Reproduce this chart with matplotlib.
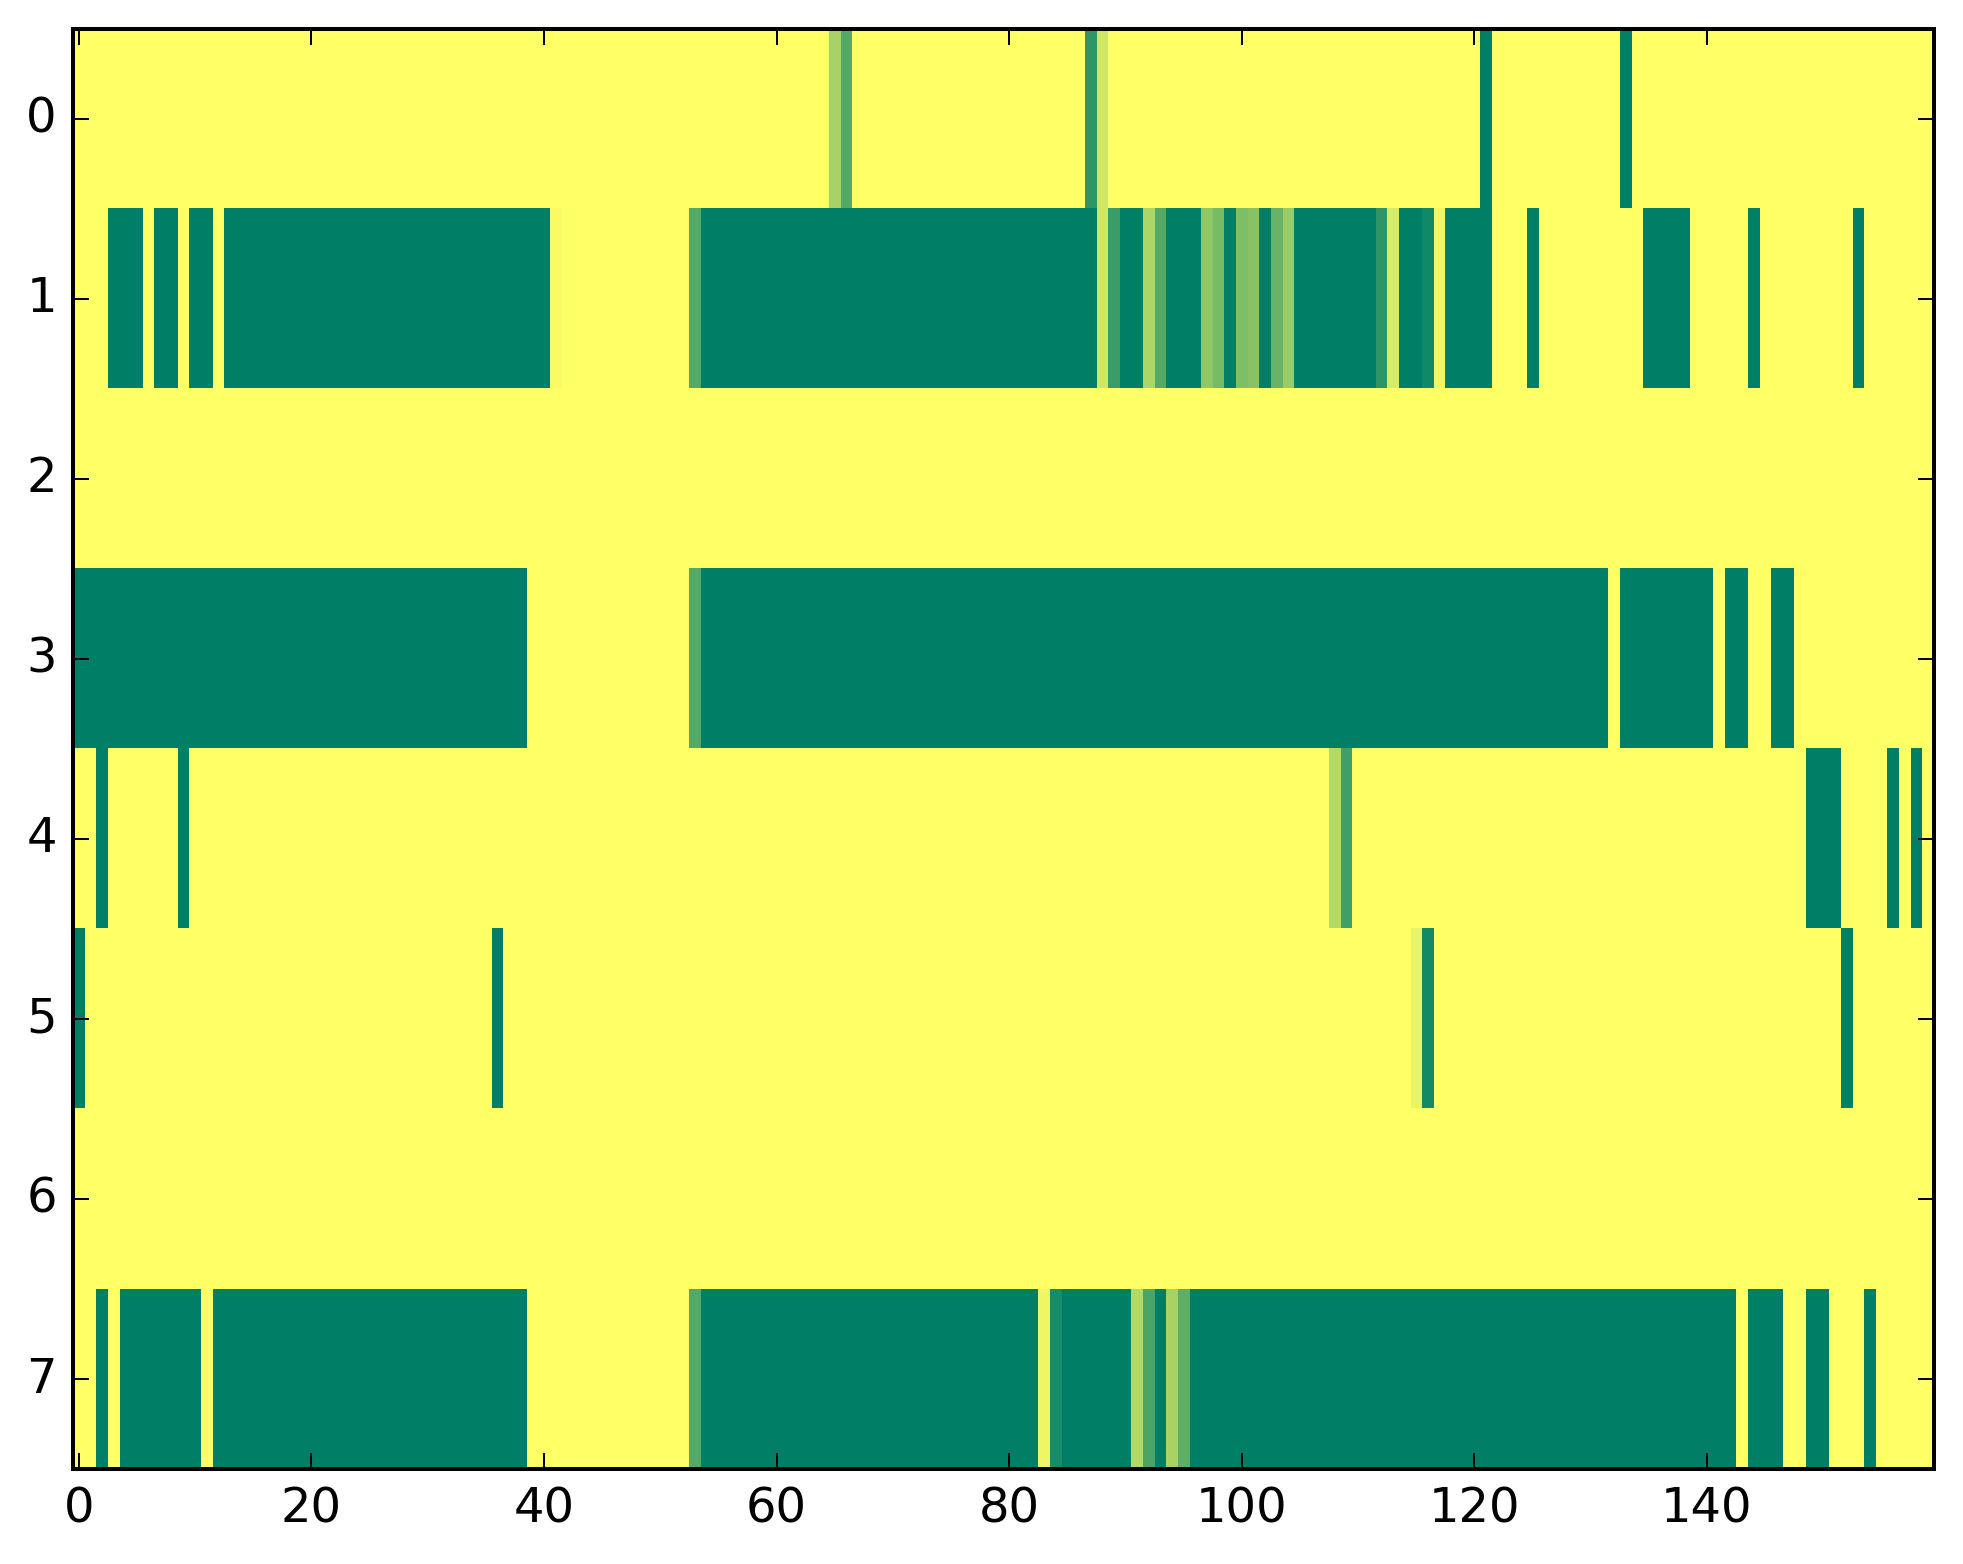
import numpy as np
import matplotlib
matplotlib.use("Agg")
import matplotlib.pyplot as plt

plt.style.use("classic")
plt.rcParams["font.family"] = ["DejaVu Sans"]

# Cell values (1 = yellow, 0 = dark green, summer colormap), 8 rows x 160 columns
row0 = [1,1,1,1,1,1,1,1,1,1, 1,1,1,1,1,1,1,1,1,1,
        1,1,1,1,1,1,1,1,1,1, 1,1,1,1,1,1,1,1,1,1,
        1,1,1,1,1,1,1,1,1,1, 1,1,1,1,1,1,1,1,1,1,
        1,1,1,1,1,.65,.33,1,1,1, 1,1,1,1,1,1,1,1,1,1,
        1,1,1,1,1,1,1,.18,.81,1, 1,1,1,1,1,1,1,1,1,1,
        1,1,1,1,1,1,1,1,1,1, 1,1,1,1,1,1,1,1,1,1,
        1,0,1,1,1,1,1,1,1,1, 1,1,1,0,1,1,1,1,1,1,
        1,1,1,1,1,1,1,1,1,1, 1,1,1,1,1,1,1,1,1,1]
row1 = [1,1,1,0,0,0,1,0,0,1, 0,0,1,0,0,0,0,0,0,0,
        0,0,0,0,0,0,0,0,0,0, 0,0,0,0,0,0,0,0,0,0,
        0,.97,1,1,1,1,1,1,1,1, 1,1,1,.33,0,0,0,0,0,0,
        0,0,0,0,0,0,0,0,0,0, 0,0,0,0,0,0,0,0,0,0,
        0,0,0,0,0,0,0,0,.81,.23, 0,0,.68,.33,0,0,0,.56,.47,0,
        .49,.53,0,.41,.6,0,0,0,0,0, 0,0,.18,.84,0,0,.07,.94,0,0,
        0,0,1,1,1,0,1,1,1,1, 1,1,1,1,1,0,0,0,0,1,
        1,1,1,1,0,1,1,1,1,1, 1,1,1,0,1,1,1,1,1,1]
row2 = [1] * 160
row3 = [0,0,0,0,0,0,0,0,0,0, 0,0,0,0,0,0,0,0,0,0,
        0,0,0,0,0,0,0,0,0,0, 0,0,0,0,0,0,0,0,0,1,
        1,1,1,1,1,1,1,1,1,1, 1,1,1,.33,0,0,0,0,0,0,
        0,0,0,0,0,0,0,0,0,0, 0,0,0,0,0,0,0,0,0,0,
        0,0,0,0,0,0,0,0,0,0, 0,0,0,0,0,0,0,0,0,0,
        0,0,0,0,0,0,0,0,0,0, 0,0,0,0,0,0,0,0,0,0,
        0,0,0,0,0,0,0,0,0,0, 0,0,1,0,0,0,0,0,0,0,
        0,1,0,0,1,1,0,0,1,1, 1,1,1,1,1,1,1,1,1,1]
row4 = [1,1,0,1,1,1,1,1,1,0, 1,1,1,1,1,1,1,1,1,1,
        1,1,1,1,1,1,1,1,1,1, 1,1,1,1,1,1,1,1,1,1,
        1,1,1,1,1,1,1,1,1,1, 1,1,1,1,1,1,1,1,1,1,
        1,1,1,1,1,1,1,1,1,1, 1,1,1,1,1,1,1,1,1,1,
        1,1,1,1,1,1,1,1,1,1, 1,1,1,1,1,1,1,1,1,1,
        1,1,1,1,1,1,1,1,.7,.25, 1,1,1,1,1,1,1,1,1,1,
        1,1,1,1,1,1,1,1,1,1, 1,1,1,1,1,1,1,1,1,1,
        1,1,1,1,1,1,1,1,1,0, 0,0,1,1,1,1,0,1,0,1]
row5 = [0,1,1,1,1,1,1,1,1,1, 1,1,1,1,1,1,1,1,1,1,
        1,1,1,1,1,1,1,1,1,1, 1,1,1,1,1,1,0,1,1,1,
        1,1,1,1,1,1,1,1,1,1, 1,1,1,1,1,1,1,1,1,1,
        1,1,1,1,1,1,1,1,1,1, 1,1,1,1,1,1,1,1,1,1,
        1,1,1,1,1,1,1,1,1,1, 1,1,1,1,1,1,1,1,1,1,
        1,1,1,1,1,1,1,1,1,1, 1,1,1,1,1,.91,.08,1,1,1,
        1,1,1,1,1,1,1,1,1,1, 1,1,1,1,1,1,1,1,1,1,
        1,1,1,1,1,1,1,1,1,1, 1,1,0,1,1,1,1,1,1,1]
row6 = [1] * 160
row7 = [1,1,0,1,0,0,0,0,0,0, 0,1,0,0,0,0,0,0,0,0,
        0,0,0,0,0,0,0,0,0,0, 0,0,0,0,0,0,0,0,0,1,
        1,1,1,1,1,1,1,1,1,1, 1,1,1,.33,0,0,0,0,0,0,
        0,0,0,0,0,0,0,0,0,0, 0,0,0,0,0,0,0,0,0,0,
        0,0,0,.93,.1,0,0,0,0,0, 0,.7,.3,0,.65,.37,0,0,0,0,
        0,0,0,0,0,0,0,0,0,0, 0,0,0,0,0,0,0,0,0,0,
        0,0,0,0,0,0,0,0,0,0, 0,0,0,0,0,0,0,0,0,0,
        0,0,0,1,0,0,0,1,1,0, 0,1,1,1,0,1,1,1,1,1]

x_ticks = [0, 20, 40, 60, 80, 100, 120, 140]
y_ticks = [0, 1, 2, 3, 4, 5, 6, 7]

data = np.array([row0, row1, row2, row3, row4, row5, row6, row7], dtype=float)

dpi = 288
fig = plt.figure(figsize=(1963 / dpi, 1564 / dpi), dpi=dpi, facecolor="white")
ax = fig.add_axes([0.03713, 0.06074, 0.94795, 0.92072])
ax.imshow(data, cmap="summer", vmin=0, vmax=1, aspect="auto",
          interpolation="nearest")
ax.set_xticks(x_ticks)
ax.set_yticks(y_ticks)
ax.set_xlim(-0.5, data.shape[1] - 0.5)
ax.set_ylim(data.shape[0] - 0.5, -0.5)
ax.tick_params(labelsize=12)

fig.savefig("out.png", dpi=dpi, facecolor="white")
